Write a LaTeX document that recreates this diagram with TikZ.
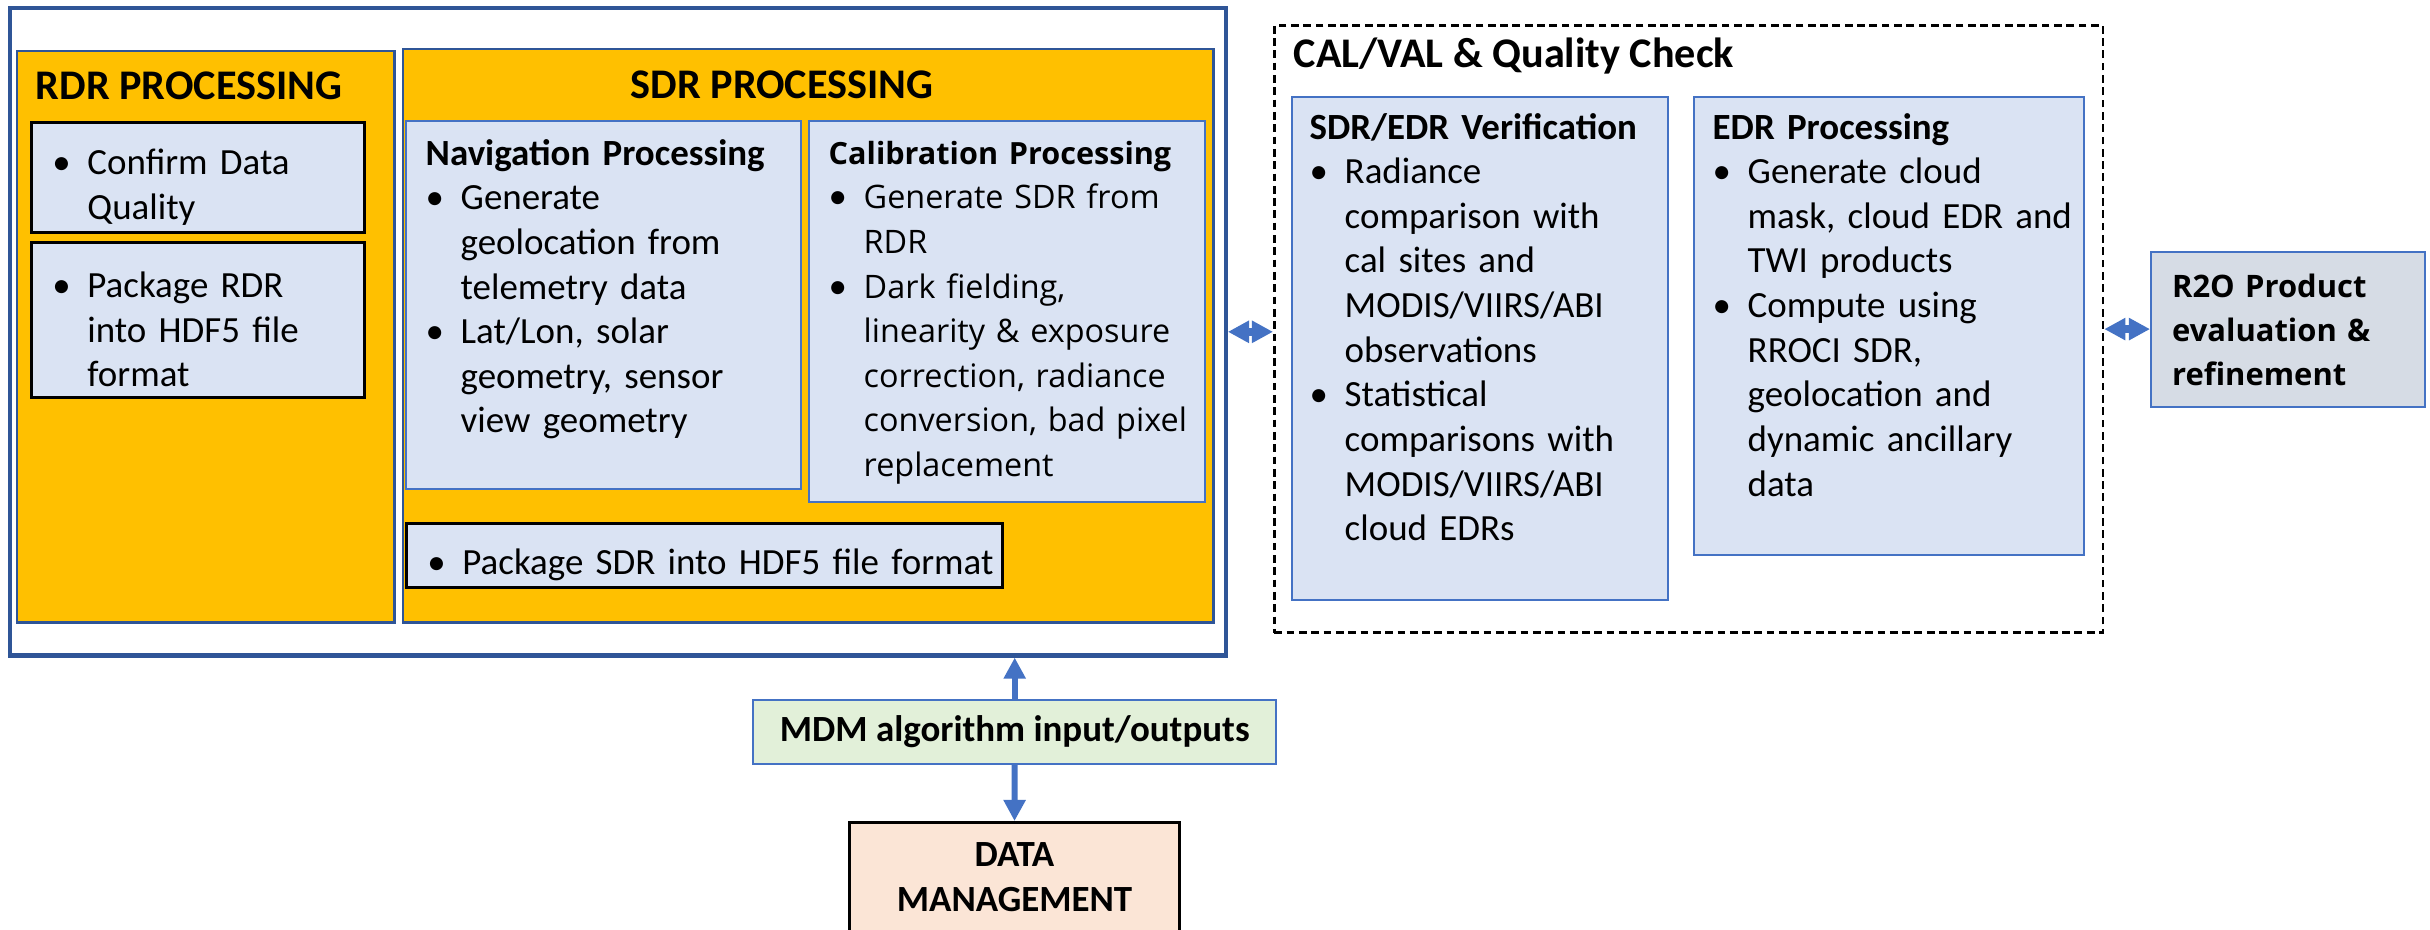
\documentclass[tikz,border=0pt]{standalone}
\usepackage{fontspec}
\setmainfont{Carlito}
\newfontfamily\opensans{Open Sans}
\usepackage{tikz}
\usetikzlibrary{arrows.meta, positioning}

\definecolor{gold}{HTML}{FFC000}
\definecolor{accblue}{HTML}{4472C4}
\definecolor{darkblue}{HTML}{2F5597}
\definecolor{paleblue}{HTML}{DAE3F3}
\definecolor{greyblue}{HTML}{D6DCE5}
\definecolor{palegreen}{HTML}{E2F0D9}
\definecolor{peach}{HTML}{FBE5D6}

\newcommand{\bodyfont}{\fontsize{10.5}{12.7}\selectfont}
\newcommand{\calfont}{\opensans\fontsize{9.2}{12.7}\selectfont}
\newlength{\bulind}
\setlength{\bulind}{0.35cm}
% bullet item with hanging indent, lines broken by \\
\newcommand{\itm}[1]{\par\hangindent=\bulind\hangafter=1\noindent
  \hbox to\bulind{{\rmfamily\mdseries\fontsize{10.5}{12.7}\selectfont\textbullet}\hss}%
  {\let\\\newline #1}\par}

\begin{document}
\begin{tikzpicture}[x=0.01cm, y=-0.01cm, font=\bodyfont,
  panel/.style={anchor=north west, inner sep=0pt},
  goldbox/.style={panel, draw=darkblue, fill=gold, line width=0.7pt},
  bluebox/.style={panel, draw=accblue, fill=paleblue, line width=0.6pt},
  listbox/.style={panel, draw=black, fill=paleblue, line width=0.8pt, align=left, inner xsep=0.21cm},
  boxtext/.style={anchor=base west, inner sep=0pt, align=left, text width=#1},
  bigtitle/.style={anchor=base west, inner sep=0pt, font=\fontsize{12}{14}\selectfont\bfseries},
  link/.style={draw=accblue, line width=2.2pt},
  twoway/.style={link, {Triangle[width=6pt,length=6pt]}-{Triangle[width=6pt,length=6pt]}},
  oneway/.style={link, line width=1.7pt, -{Triangle[width=6pt,length=6pt]}}
]
  \useasboundingbox (0,0) rectangle (2430,929);
  \clip (0,0) rectangle (2430,929);
  \fill[white] (0,0) rectangle (2430,929);

  % Processing frame
  \node[panel, draw=darkblue, line width=1.2pt, minimum width=12.15cm, minimum height=6.47cm] (frame) at (8,6) {};

  % RDR side
  \node[goldbox, minimum width=3.77cm, minimum height=5.71cm] (rdr) at (16,50) {};
  \node[bigtitle] (rdrhead) at (35,99) {RDR PROCESSING};
  \node[listbox, minimum width=3.33cm, minimum height=1.10cm, text width=2.91cm] (confirm) at (30,121)
    {\itm{Confirm Data\\Quality}};
  \node[listbox, minimum width=3.33cm, minimum height=1.55cm, text width=2.91cm] (pkgrdr) at (30,241)
    {\itm{Package RDR\\into HDF5 file\\format}};

  % SDR side
  \node[goldbox, minimum width=8.10cm, minimum height=5.73cm] (sdr) at (402,48) {};
  \node[bigtitle] (sdrhead) at (630,98) {SDR PROCESSING};
  \node[bluebox, minimum width=3.95cm, minimum height=3.68cm] (nav) at (405,120) {};
  \node[boxtext=3.7cm] (navtext) at (425,165)
    {\textbf{Navigation Processing}
     \itm{Generate\\geolocation from\\telemetry data}
     \itm{Lat/Lon, solar\\geometry, sensor\\view geometry}};
  \node[bluebox, minimum width=3.96cm, minimum height=3.81cm] (cal) at (808,120) {};
  \node[boxtext=3.7cm, font=\calfont] (caltext) at (828,164)
    {{\fontsize{8.7}{12.7}\selectfont\bfseries Calibration Processing}
     \itm{Generate SDR from\\RDR}
     \itm{Dark fielding,\\linearity \& exposure\\correction, radiance\\conversion, bad pixel\\replacement}};
  \node[listbox, minimum width=5.96cm, minimum height=0.64cm, text width=5.54cm] (pkgsdr) at (405,522)
    {\itm{\mbox{Package SDR into HDF5 file format}}};

  % CAL/VAL
  \node[panel, draw=black, line width=0.8pt, dash pattern=on 2.2pt off 1.3pt,
        minimum width=8.28cm, minimum height=6.07cm] (calval) at (1273,24) {};
  \node[bigtitle] (calvalhead) at (1293,67) {CAL/VAL \& Quality Check};
  \node[bluebox, minimum width=3.76cm, minimum height=5.03cm] (verif) at (1291,96) {};
  \node[boxtext=3.55cm] (veriftext) at (1309,139)
    {\textbf{SDR/EDR Verification}
     \itm{Radiance\\comparison with\\cal sites and\\MODIS/VIIRS/ABI\\observations}
     \itm{Statistical\\comparisons with\\MODIS/VIIRS/ABI\\cloud EDRs}};
  \node[bluebox, minimum width=3.90cm, minimum height=4.58cm] (edr) at (1693,96) {};
  \node[boxtext=3.65cm] (edrtext) at (1712,139)
    {\textbf{EDR Processing}
     \itm{Generate cloud\\mask, cloud EDR and\\TWI products}
     \itm{Compute using\\RROCI SDR,\\geolocation and\\dynamic ancillary\\data}};

  % R2O
  \node[panel, draw=accblue, fill=greyblue, line width=0.6pt, align=left,
        minimum width=2.74cm, minimum height=1.55cm, text width=2.32cm, inner xsep=0.21cm,
        font=\opensans\bfseries\fontsize{8.8}{12.5}\selectfont] (r2o) at (2150,251)
    {R2O Product\\evaluation \&\\refinement};

  % MDM and data management
  \node[panel, draw=accblue, fill=palegreen, line width=0.6pt, minimum width=5.23cm, minimum height=0.64cm,
        font=\bodyfont\bfseries] (mdm) at (752,699) {MDM algorithm input/outputs};
  \node[panel, draw=black, fill=peach, line width=0.8pt, minimum width=3.30cm, minimum height=1.10cm,
        align=center, font=\bodyfont\bfseries] (dm) at (848,821) {DATA\\MANAGEMENT};

  % connectors
  \draw[twoway] (frame.east) -- (frame.east -| calval.west);
  \draw[twoway] (calval.east) -- (calval.east -| r2o.west);
  \draw[oneway] (mdm.north) -- (mdm.north |- frame.south);
  \draw[oneway] (mdm.south) -- (dm.north);
\end{tikzpicture}
\end{document}
